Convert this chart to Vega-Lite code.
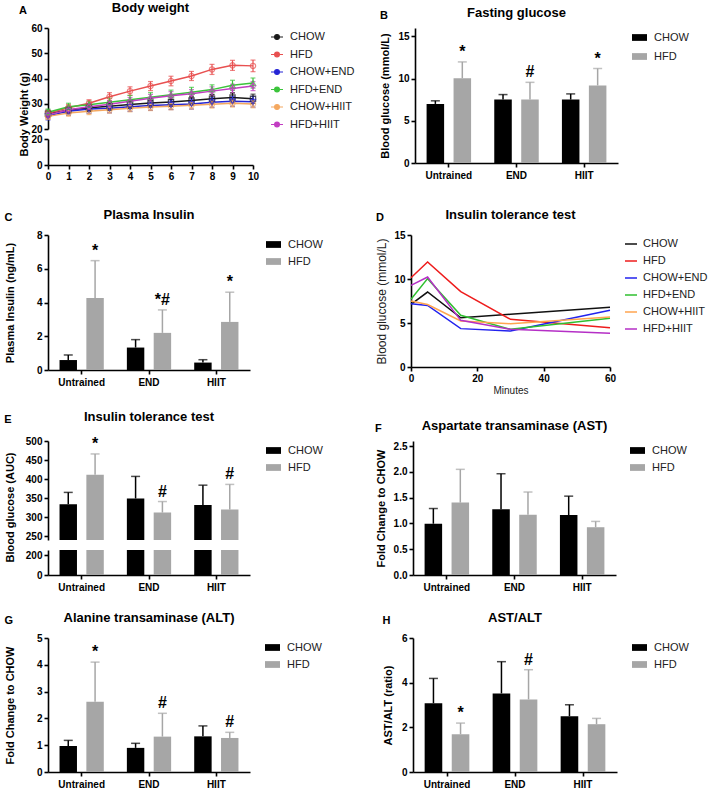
{
  "$schema": "https://vega.github.io/schema/vega-lite/v6.json",
  "padding": {"left": 4, "top": 2, "right": 2, "bottom": 2},
  "background": "white",
  "config": {
    "font": "Liberation Sans",
    "view": {"stroke": null},
    "axis": {"grid": false, "domainColor": "#000", "domainWidth": 1.6, "tickColor": "#000", "tickWidth": 1.6, "tickSize": 4, "labelFontSize": 10, "labelFontWeight": "bold", "labelColor": "#000", "labelFont": "Liberation Sans", "titleFont": "Liberation Sans", "titleFontSize": 11, "titleFontWeight": "bold", "titleColor": "#000", "labelPadding": 2, "labelOverlap": false, "labelFlush": false},
    "axisX": {"labelAngle": 0},
    "title": {"font": "Liberation Sans", "fontSize": 13, "fontWeight": "bold", "color": "#000", "offset": 8},
    "legend": {"labelFont": "Liberation Sans"}
  },
  "datasets": {
    "bw": [
      {"week": 0, "group": "CHOW", "mean": 26.0, "sd": 1.5}, {"week": 1, "group": "CHOW", "mean": 27.5, "sd": 1.5}, {"week": 2, "group": "CHOW", "mean": 28.4, "sd": 1.5}, {"week": 3, "group": "CHOW", "mean": 29.0, "sd": 1.6}, {"week": 4, "group": "CHOW", "mean": 29.7, "sd": 1.6}, {"week": 5, "group": "CHOW", "mean": 30.3, "sd": 1.6}, {"week": 6, "group": "CHOW", "mean": 30.7, "sd": 1.7}, {"week": 7, "group": "CHOW", "mean": 31.3, "sd": 1.7}, {"week": 8, "group": "CHOW", "mean": 32.0, "sd": 1.7}, {"week": 9, "group": "CHOW", "mean": 32.5, "sd": 1.8}, {"week": 10, "group": "CHOW", "mean": 32.0, "sd": 1.8},
      {"week": 0, "group": "HFD", "mean": 26.2, "sd": 1.2}, {"week": 1, "group": "HFD", "mean": 28.4, "sd": 1.3}, {"week": 2, "group": "HFD", "mean": 30.2, "sd": 1.4}, {"week": 3, "group": "HFD", "mean": 32.8, "sd": 1.6}, {"week": 4, "group": "HFD", "mean": 35.0, "sd": 1.7}, {"week": 5, "group": "HFD", "mean": 37.0, "sd": 1.8}, {"week": 6, "group": "HFD", "mean": 39.0, "sd": 1.9}, {"week": 7, "group": "HFD", "mean": 41.0, "sd": 1.8}, {"week": 8, "group": "HFD", "mean": 43.6, "sd": 2.0}, {"week": 9, "group": "HFD", "mean": 45.2, "sd": 2.0}, {"week": 10, "group": "HFD", "mean": 45.0, "sd": 2.3},
      {"week": 0, "group": "CHOW+END", "mean": 25.2, "sd": 1.6}, {"week": 1, "group": "CHOW+END", "mean": 27.0, "sd": 1.6}, {"week": 2, "group": "CHOW+END", "mean": 27.9, "sd": 1.7}, {"week": 3, "group": "CHOW+END", "mean": 28.2, "sd": 1.8}, {"week": 4, "group": "CHOW+END", "mean": 28.8, "sd": 1.8}, {"week": 5, "group": "CHOW+END", "mean": 29.3, "sd": 1.9}, {"week": 6, "group": "CHOW+END", "mean": 29.6, "sd": 1.9}, {"week": 7, "group": "CHOW+END", "mean": 29.9, "sd": 2.0}, {"week": 8, "group": "CHOW+END", "mean": 30.6, "sd": 2.0}, {"week": 9, "group": "CHOW+END", "mean": 31.0, "sd": 2.0}, {"week": 10, "group": "CHOW+END", "mean": 30.8, "sd": 2.1},
      {"week": 0, "group": "HFD+END", "mean": 26.6, "sd": 1.3}, {"week": 1, "group": "HFD+END", "mean": 28.8, "sd": 1.4}, {"week": 2, "group": "HFD+END", "mean": 29.6, "sd": 1.5}, {"week": 3, "group": "HFD+END", "mean": 30.6, "sd": 1.6}, {"week": 4, "group": "HFD+END", "mean": 31.6, "sd": 1.7}, {"week": 5, "group": "HFD+END", "mean": 32.6, "sd": 1.8}, {"week": 6, "group": "HFD+END", "mean": 33.6, "sd": 1.8}, {"week": 7, "group": "HFD+END", "mean": 34.6, "sd": 1.9}, {"week": 8, "group": "HFD+END", "mean": 35.6, "sd": 1.9}, {"week": 9, "group": "HFD+END", "mean": 37.3, "sd": 2.0}, {"week": 10, "group": "HFD+END", "mean": 38.2, "sd": 2.0},
      {"week": 0, "group": "CHOW+HIIT", "mean": 25.0, "sd": 1.2}, {"week": 1, "group": "CHOW+HIIT", "mean": 26.3, "sd": 1.2}, {"week": 2, "group": "CHOW+HIIT", "mean": 27.0, "sd": 1.3}, {"week": 3, "group": "CHOW+HIIT", "mean": 27.6, "sd": 1.3}, {"week": 4, "group": "CHOW+HIIT", "mean": 28.2, "sd": 1.4}, {"week": 5, "group": "CHOW+HIIT", "mean": 28.7, "sd": 1.4}, {"week": 6, "group": "CHOW+HIIT", "mean": 29.0, "sd": 1.4}, {"week": 7, "group": "CHOW+HIIT", "mean": 29.4, "sd": 1.5}, {"week": 8, "group": "CHOW+HIIT", "mean": 29.8, "sd": 1.5}, {"week": 9, "group": "CHOW+HIIT", "mean": 30.2, "sd": 1.5}, {"week": 10, "group": "CHOW+HIIT", "mean": 29.9, "sd": 1.5},
      {"week": 0, "group": "HFD+HIIT", "mean": 25.6, "sd": 1.3}, {"week": 1, "group": "HFD+HIIT", "mean": 27.6, "sd": 1.3}, {"week": 2, "group": "HFD+HIIT", "mean": 28.8, "sd": 1.4}, {"week": 3, "group": "HFD+HIIT", "mean": 29.8, "sd": 1.4}, {"week": 4, "group": "HFD+HIIT", "mean": 31.0, "sd": 1.5}, {"week": 5, "group": "HFD+HIIT", "mean": 32.2, "sd": 1.5}, {"week": 6, "group": "HFD+HIIT", "mean": 33.2, "sd": 1.6}, {"week": 7, "group": "HFD+HIIT", "mean": 34.0, "sd": 1.6}, {"week": 8, "group": "HFD+HIIT", "mean": 35.0, "sd": 1.7}, {"week": 9, "group": "HFD+HIIT", "mean": 36.0, "sd": 1.7}, {"week": 10, "group": "HFD+HIIT", "mean": 37.0, "sd": 1.8}
    ],
    "itt": [
      {"min": 0, "group": "CHOW", "glucose": 7.12}, {"min": 5, "group": "CHOW", "glucose": 8.52}, {"min": 15, "group": "CHOW", "glucose": 5.6}, {"min": 30, "group": "CHOW", "glucose": 6.0}, {"min": 60, "group": "CHOW", "glucose": 6.8},
      {"min": 0, "group": "HFD", "glucose": 10.15}, {"min": 5, "group": "HFD", "glucose": 11.93}, {"min": 15, "group": "HFD", "glucose": 8.56}, {"min": 30, "group": "HFD", "glucose": 5.42}, {"min": 60, "group": "HFD", "glucose": 4.47},
      {"min": 0, "group": "CHOW+END", "glucose": 7.2}, {"min": 5, "group": "CHOW+END", "glucose": 7.0}, {"min": 15, "group": "CHOW+END", "glucose": 4.36}, {"min": 30, "group": "CHOW+END", "glucose": 4.09}, {"min": 60, "group": "CHOW+END", "glucose": 6.44},
      {"min": 0, "group": "HFD+END", "glucose": 7.69}, {"min": 5, "group": "HFD+END", "glucose": 10.04}, {"min": 15, "group": "HFD+END", "glucose": 5.87}, {"min": 30, "group": "HFD+END", "glucose": 4.28}, {"min": 60, "group": "HFD+END", "glucose": 5.53},
      {"min": 0, "group": "CHOW+HIIT", "glucose": 7.5}, {"min": 5, "group": "CHOW+HIIT", "glucose": 7.1}, {"min": 15, "group": "CHOW+HIIT", "glucose": 5.23}, {"min": 30, "group": "CHOW+HIIT", "glucose": 4.92}, {"min": 60, "group": "CHOW+HIIT", "glucose": 5.68},
      {"min": 0, "group": "HFD+HIIT", "glucose": 9.28}, {"min": 5, "group": "HFD+HIIT", "glucose": 10.23}, {"min": 15, "group": "HFD+HIIT", "glucose": 5.3}, {"min": 30, "group": "HFD+HIIT", "glucose": 4.28}, {"min": 60, "group": "HFD+HIIT", "glucose": 3.83}
    ],
    "fg": [
      {"cond": "Untrained", "diet": "CHOW", "mean": 7.0, "hi": 7.37, "sig": ""}, {"cond": "Untrained", "diet": "HFD", "mean": 10.05, "hi": 11.98, "sig": "*"},
      {"cond": "END", "diet": "CHOW", "mean": 7.52, "hi": 8.11, "sig": ""}, {"cond": "END", "diet": "HFD", "mean": 7.52, "hi": 9.56, "sig": "#"},
      {"cond": "HIIT", "diet": "CHOW", "mean": 7.52, "hi": 8.19, "sig": ""}, {"cond": "HIIT", "diet": "HFD", "mean": 9.19, "hi": 11.2, "sig": "*"}
    ],
    "ins": [
      {"cond": "Untrained", "diet": "CHOW", "mean": 0.59, "hi": 0.89, "sig": ""}, {"cond": "Untrained", "diet": "HFD", "mean": 4.26, "hi": 6.48, "sig": "*"},
      {"cond": "END", "diet": "CHOW", "mean": 1.33, "hi": 1.8, "sig": ""}, {"cond": "END", "diet": "HFD", "mean": 2.2, "hi": 3.56, "sig": "*#"},
      {"cond": "HIIT", "diet": "CHOW", "mean": 0.44, "hi": 0.61, "sig": ""}, {"cond": "HIIT", "diet": "HFD", "mean": 2.85, "hi": 4.61, "sig": "*"}
    ],
    "auc": [
      {"cond": "Untrained", "diet": "CHOW", "mean": 334, "hi": 365, "sig": ""}, {"cond": "Untrained", "diet": "HFD", "mean": 411.6, "hi": 466, "sig": "*"},
      {"cond": "END", "diet": "CHOW", "mean": 349, "hi": 407, "sig": ""}, {"cond": "END", "diet": "HFD", "mean": 312, "hi": 341, "sig": "#"},
      {"cond": "HIIT", "diet": "CHOW", "mean": 332, "hi": 384, "sig": ""}, {"cond": "HIIT", "diet": "HFD", "mean": 320, "hi": 386, "sig": "#"}
    ],
    "ast": [
      {"cond": "Untrained", "diet": "CHOW", "mean": 0.995, "hi": 1.29, "sig": ""}, {"cond": "Untrained", "diet": "HFD", "mean": 1.405, "hi": 2.05, "sig": ""},
      {"cond": "END", "diet": "CHOW", "mean": 1.275, "hi": 1.965, "sig": ""}, {"cond": "END", "diet": "HFD", "mean": 1.17, "hi": 1.61, "sig": ""},
      {"cond": "HIIT", "diet": "CHOW", "mean": 1.163, "hi": 1.53, "sig": ""}, {"cond": "HIIT", "diet": "HFD", "mean": 0.927, "hi": 1.04, "sig": ""}
    ],
    "alt": [
      {"cond": "Untrained", "diet": "CHOW", "mean": 0.97, "hi": 1.18, "sig": ""}, {"cond": "Untrained", "diet": "HFD", "mean": 2.62, "hi": 4.1, "sig": "*"},
      {"cond": "END", "diet": "CHOW", "mean": 0.9, "hi": 1.07, "sig": ""}, {"cond": "END", "diet": "HFD", "mean": 1.32, "hi": 2.19, "sig": "#"},
      {"cond": "HIIT", "diet": "CHOW", "mean": 1.33, "hi": 1.72, "sig": ""}, {"cond": "HIIT", "diet": "HFD", "mean": 1.27, "hi": 1.48, "sig": "#"}
    ],
    "ratio": [
      {"cond": "Untrained", "diet": "CHOW", "mean": 3.08, "hi": 4.19, "sig": ""}, {"cond": "Untrained", "diet": "HFD", "mean": 1.69, "hi": 2.19, "sig": "*"},
      {"cond": "END", "diet": "CHOW", "mean": 3.52, "hi": 4.94, "sig": ""}, {"cond": "END", "diet": "HFD", "mean": 3.25, "hi": 4.58, "sig": "#"},
      {"cond": "HIIT", "diet": "CHOW", "mean": 2.5, "hi": 3.01, "sig": ""}, {"cond": "HIIT", "diet": "HFD", "mean": 2.14, "hi": 2.4, "sig": ""}
    ]
  },
  "spacing": 28,
  "resolve": {"scale": {"color": "independent", "shape": "independent", "x": "independent", "y": "independent", "xOffset": "independent"}, "legend": {"color": "independent", "shape": "independent"}},
  "vconcat": [
    {
      "spacing": 22,
      "resolve": {"scale": {"color": "independent", "shape": "independent", "x": "independent", "y": "independent", "xOffset": "independent"}, "legend": {"color": "independent", "shape": "independent"}},
      "hconcat": [
        {
          "title": {"text": "A", "anchor": "start", "frame": "bounds", "fontSize": 11, "offset": -14},
          "spacing": 10,
          "bounds": "flush",
          "resolve": {"scale": {"color": "independent", "shape": "independent", "x": "independent", "y": "independent"}, "legend": {"color": "independent", "shape": "independent"}},
          "vconcat": [
            {
              "width": 205, "height": 101,
              "title": {"text": "Body weight", "offset": 8},
              "data": {"name": "bw"},
              "encoding": {
                "x": {"field": "week", "type": "quantitative", "scale": {"domain": [0, 10]}, "axis": null},
                "y": {"field": "mean", "type": "quantitative", "scale": {"domain": [20, 60]}, "axis": {"values": [20, 30, 40, 50, 60], "tickCount": 20, "format": "d", "title": "Body Weight (g)", "titleY": 86, "titlePadding": 1}}
              },
              "layer": [
                {"mark": {"type": "line", "strokeWidth": 1.5}, "encoding": {"color": {"field": "group", "type": "nominal", "sort": ["CHOW", "HFD", "CHOW+END", "HFD+END", "CHOW+HIIT", "HFD+HIIT"], "scale": {"domain": ["CHOW", "HFD", "CHOW+END", "HFD+END", "CHOW+HIIT", "HFD+HIIT"], "range": ["#1a1a1a", "#e85050", "#2525d5", "#3cc43c", "#f4a860", "#c23dc2"]},
                  "legend": {"title": null, "symbolType": "M-1,0H1M0.4,0A0.4,0.4,0,1,1,-0.4,0A0.4,0.4,0,1,1,0.4,0", "symbolSize": 144, "symbolStrokeWidth": 1.2, "symbolFillColor": "transparent", "labelFontSize": 11, "labelColor": "#222", "labelOffset": 6, "rowPadding": 5.5, "offset": 12, "padding": 2}}}},
                {"mark": {"type": "errorbar", "ticks": true, "thickness": 1.2}, "encoding": {"yError": {"field": "sd"}, "color": {"field": "group", "type": "nominal", "scale": {"domain": ["CHOW", "HFD", "CHOW+END", "HFD+END", "CHOW+HIIT", "HFD+HIIT"], "range": ["#1a1a1a", "#e85050", "#2525d5", "#3cc43c", "#f4a860", "#c23dc2"]}, "legend": null}}},
                {"transform": [{"filter": "datum.group === 'CHOW'"}], "mark": {"type": "point", "shape": "square", "filled": false, "size": 28, "strokeWidth": 1.2}, "encoding": {"color": {"field": "group", "type": "nominal", "scale": {"domain": ["CHOW", "HFD", "CHOW+END", "HFD+END", "CHOW+HIIT", "HFD+HIIT"], "range": ["#1a1a1a", "#e85050", "#2525d5", "#3cc43c", "#f4a860", "#c23dc2"]}, "legend": null}}},
                {"transform": [{"filter": "datum.group === 'HFD' || datum.group === 'CHOW+HIIT'"}], "mark": {"type": "point", "shape": "circle", "filled": false, "size": 28, "strokeWidth": 1.2}, "encoding": {"color": {"field": "group", "type": "nominal", "scale": {"domain": ["CHOW", "HFD", "CHOW+END", "HFD+END", "CHOW+HIIT", "HFD+HIIT"], "range": ["#1a1a1a", "#e85050", "#2525d5", "#3cc43c", "#f4a860", "#c23dc2"]}, "legend": null}}},
                {"transform": [{"filter": "datum.group === 'CHOW+END'"}], "mark": {"type": "point", "shape": "triangle-down", "filled": false, "size": 28, "strokeWidth": 1.2}, "encoding": {"color": {"field": "group", "type": "nominal", "scale": {"domain": ["CHOW", "HFD", "CHOW+END", "HFD+END", "CHOW+HIIT", "HFD+HIIT"], "range": ["#1a1a1a", "#e85050", "#2525d5", "#3cc43c", "#f4a860", "#c23dc2"]}, "legend": null}}},
                {"transform": [{"filter": "datum.group === 'HFD+END'"}], "mark": {"type": "point", "shape": "triangle-up", "filled": false, "size": 28, "strokeWidth": 1.2}, "encoding": {"color": {"field": "group", "type": "nominal", "scale": {"domain": ["CHOW", "HFD", "CHOW+END", "HFD+END", "CHOW+HIIT", "HFD+HIIT"], "range": ["#1a1a1a", "#e85050", "#2525d5", "#3cc43c", "#f4a860", "#c23dc2"]}, "legend": null}}},
                {"transform": [{"filter": "datum.group === 'HFD+HIIT'"}], "mark": {"type": "point", "shape": "diamond", "filled": false, "size": 28, "strokeWidth": 1.2}, "encoding": {"color": {"field": "group", "type": "nominal", "scale": {"domain": ["CHOW", "HFD", "CHOW+END", "HFD+END", "CHOW+HIIT", "HFD+HIIT"], "range": ["#1a1a1a", "#e85050", "#2525d5", "#3cc43c", "#f4a860", "#c23dc2"]}, "legend": null}}}
              ]
            },
            {
              "width": 205, "height": 26,
              "data": {"name": "bw"},
              "mark": {"type": "line", "clip": true},
              "encoding": {
                "x": {"field": "week", "type": "quantitative", "scale": {"domain": [0, 10]}, "axis": {"values": [0, 1, 2, 3, 4, 5, 6, 7, 8, 9, 10], "tickCount": 20, "format": "d", "title": null}},
                "y": {"field": "mean", "type": "quantitative", "scale": {"domain": [0, 20]}, "axis": {"values": [0, 20], "tickCount": 20, "format": "d", "title": null}},
                "detail": {"field": "group", "type": "nominal"}
              }
            }
          ]
        },
        {
          "title": {"text": "B", "anchor": "start", "frame": "bounds", "fontSize": 11, "offset": -14},
          "bounds": "flush",
          "resolve": {"scale": {"color": "independent", "x": "independent", "y": "independent", "xOffset": "independent"}, "legend": {"color": "independent"}},
          "vconcat": [
            {
              "width": 203, "height": 135,
              "title": "Fasting glucose",
              "data": {"name": "fg"},
              "encoding": {
                "x": {"field": "cond", "type": "nominal", "sort": ["Untrained", "END", "HIIT"], "scale": {"paddingInner": 0, "paddingOuter": 0}, "axis": {"title": null, "labelAngle": 0, "labelPadding": 3}},
                "xOffset": {"field": "diet", "type": "nominal", "sort": ["CHOW", "HFD"], "scale": {"paddingInner": 0.35, "paddingOuter": 0.43}}
              },
              "layer": [
                {"mark": "bar", "encoding": {"y": {"field": "mean", "type": "quantitative", "scale": {"domain": [0, 15]}, "axis": {"values": [0, 5, 10, 15], "tickCount": 20, "format": "d", "title": "Blood glucose (mmol/L)", "titlePadding": 7}}, "color": {"field": "diet", "type": "nominal", "scale": {"domain": ["CHOW", "HFD"], "range": ["#000000", "#a6a6a6"]}, "legend": {"title": null, "symbolType": "M-1,-0.45H1V0.45H-1Z", "symbolSize": 225, "symbolStrokeWidth": 0, "labelFontSize": 11, "labelColor": "#222", "labelOffset": 7, "rowPadding": 6, "offset": 12, "padding": 2}}}},
                {"mark": {"type": "rule", "strokeWidth": 1.5}, "encoding": {"y": {"field": "mean", "type": "quantitative"}, "y2": {"field": "hi"}, "color": {"field": "diet", "type": "nominal", "scale": {"domain": ["CHOW", "HFD"], "range": ["#000000", "#a6a6a6"]}, "legend": null}}},
                {"mark": {"type": "tick", "thickness": 1.5, "size": 9}, "encoding": {"y": {"field": "hi", "type": "quantitative"}, "color": {"field": "diet", "type": "nominal", "scale": {"domain": ["CHOW", "HFD"], "range": ["#000000", "#a6a6a6"]}, "legend": null}}},
                {"mark": {"type": "text", "baseline": "alphabetic", "dy": -5, "fontSize": 16, "fontWeight": "bold", "color": "#000"}, "encoding": {"y": {"field": "hi", "type": "quantitative"}, "text": {"field": "sig"}}}
              ]
            }
          ]
        }
      ]
    },
    {
      "spacing": 15,
      "resolve": {"scale": {"color": "independent", "shape": "independent", "x": "independent", "y": "independent", "xOffset": "independent"}, "legend": {"color": "independent", "shape": "independent"}},
      "vconcat": [
        {
          "spacing": 50,
          "resolve": {"scale": {"color": "independent", "shape": "independent", "x": "independent", "y": "independent", "xOffset": "independent"}, "legend": {"color": "independent", "shape": "independent"}},
          "hconcat": [
            {
              "title": {"text": "C", "anchor": "start", "frame": "bounds", "fontSize": 11, "offset": -14},
              "bounds": "flush",
              "resolve": {"scale": {"color": "independent", "x": "independent", "y": "independent", "xOffset": "independent"}, "legend": {"color": "independent"}},
              "vconcat": [
                {
                  "width": 202, "height": 135,
                  "title": "Plasma Insulin",
                  "data": {"name": "ins"},
                  "encoding": {
                    "x": {"field": "cond", "type": "nominal", "sort": ["Untrained", "END", "HIIT"], "scale": {"paddingInner": 0, "paddingOuter": 0}, "axis": {"title": null, "labelAngle": 0, "labelPadding": 3}},
                    "xOffset": {"field": "diet", "type": "nominal", "sort": ["CHOW", "HFD"], "scale": {"paddingInner": 0.35, "paddingOuter": 0.43}}
                  },
                  "layer": [
                    {"mark": "bar", "encoding": {"y": {"field": "mean", "type": "quantitative", "scale": {"domain": [0, 8]}, "axis": {"values": [0, 2, 4, 6, 8], "tickCount": 20, "format": "d", "title": "Plasma Insulin (ng/mL)", "titlePadding": 21}}, "color": {"field": "diet", "type": "nominal", "scale": {"domain": ["CHOW", "HFD"], "range": ["#000000", "#a6a6a6"]}, "legend": {"title": null, "symbolType": "M-1,-0.45H1V0.45H-1Z", "symbolSize": 225, "symbolStrokeWidth": 0, "labelFontSize": 11, "labelColor": "#222", "labelOffset": 7, "rowPadding": 4, "offset": 14, "padding": 2}}}},
                    {"mark": {"type": "rule", "strokeWidth": 1.5}, "encoding": {"y": {"field": "mean", "type": "quantitative"}, "y2": {"field": "hi"}, "color": {"field": "diet", "type": "nominal", "scale": {"domain": ["CHOW", "HFD"], "range": ["#000000", "#a6a6a6"]}, "legend": null}}},
                    {"mark": {"type": "tick", "thickness": 1.5, "size": 9}, "encoding": {"y": {"field": "hi", "type": "quantitative"}, "color": {"field": "diet", "type": "nominal", "scale": {"domain": ["CHOW", "HFD"], "range": ["#000000", "#a6a6a6"]}, "legend": null}}},
                    {"mark": {"type": "text", "baseline": "alphabetic", "dy": -5, "fontSize": 16, "fontWeight": "bold", "color": "#000"}, "encoding": {"y": {"field": "hi", "type": "quantitative"}, "text": {"field": "sig"}}}
                  ]
                }
              ]
            },
            {
              "title": {"text": "D", "anchor": "start", "frame": "bounds", "fontSize": 11, "offset": -14},
              "bounds": "flush",
              "resolve": {"scale": {"color": "independent", "x": "independent", "y": "independent"}, "legend": {"color": "independent"}},
              "vconcat": [
                {
                  "width": 199, "height": 132,
                  "title": "Insulin tolerance test",
                  "data": {"name": "itt"},
                  "mark": {"type": "line", "strokeWidth": 1.5},
                  "encoding": {
                    "x": {"field": "min", "type": "quantitative", "scale": {"domain": [0, 60]}, "axis": {"values": [0, 20, 40, 60], "tickCount": 20, "format": "d", "title": "Minutes", "titleFontWeight": "normal", "titleFontSize": 10, "titleColor": "#222", "titlePadding": 2}},
                    "y": {"field": "glucose", "type": "quantitative", "scale": {"domain": [0, 15]}, "axis": {"values": [0, 5, 10, 15], "tickCount": 20, "format": "d", "title": "Blood glucose (mmol/L)", "titleFontWeight": "normal", "titleFontSize": 12, "titleColor": "#222", "titlePadding": 5}},
                    "color": {"field": "group", "type": "nominal", "sort": ["CHOW", "HFD", "CHOW+END", "HFD+END", "CHOW+HIIT", "HFD+HIIT"], "scale": {"domain": ["CHOW", "HFD", "CHOW+END", "HFD+END", "CHOW+HIIT", "HFD+HIIT"], "range": ["#111111", "#ee1c1c", "#2222ee", "#2fbf2f", "#ffa54f", "#b52fc6"]}, "legend": {"title": null, "symbolType": "stroke", "symbolSize": 144, "symbolStrokeWidth": 1.5, "labelFontSize": 11, "labelColor": "#222", "labelOffset": 5, "rowPadding": 5, "offset": 9, "padding": 2}}
                  }
                }
              ]
            }
          ]
        },
        {
          "spacing": 20,
          "resolve": {"scale": {"color": "independent", "shape": "independent", "x": "independent", "y": "independent", "xOffset": "independent"}, "legend": {"color": "independent", "shape": "independent"}},
          "vconcat": [
            {
              "spacing": 50,
              "resolve": {"scale": {"color": "independent", "shape": "independent", "x": "independent", "y": "independent", "xOffset": "independent"}, "legend": {"color": "independent", "shape": "independent"}},
              "hconcat": [
                {
                  "title": {"text": "E", "anchor": "start", "frame": "bounds", "fontSize": 11, "offset": -14},
                  "spacing": 10,
                  "bounds": "flush",
                  "resolve": {"scale": {"color": "independent", "x": "independent", "y": "independent", "xOffset": "independent"}, "legend": {"color": "independent"}},
                  "vconcat": [
                    {
                      "width": 202, "height": 99,
                      "title": {"text": "Insulin tolerance test", "offset": 12},
                      "data": {"name": "auc"},
                      "encoding": {
                        "x": {"field": "cond", "type": "nominal", "sort": ["Untrained", "END", "HIIT"], "scale": {"paddingInner": 0, "paddingOuter": 0}, "axis": null},
                        "xOffset": {"field": "diet", "type": "nominal", "sort": ["CHOW", "HFD"], "scale": {"paddingInner": 0.35, "paddingOuter": 0.43}}
                      },
                      "layer": [
                        {"mark": {"type": "bar", "clip": true}, "encoding": {"y": {"field": "mean", "type": "quantitative", "scale": {"domain": [250, 500], "zero": false}, "axis": {"values": [250, 300, 350, 400, 450, 500], "tickCount": 20, "format": "d", "title": "Blood glucose (AUC)", "titleY": 66, "titlePadding": 10}}, "color": {"field": "diet", "type": "nominal", "scale": {"domain": ["CHOW", "HFD"], "range": ["#000000", "#a6a6a6"]}, "legend": {"title": null, "symbolType": "M-1,-0.45H1V0.45H-1Z", "symbolSize": 225, "symbolStrokeWidth": 0, "labelFontSize": 11, "labelColor": "#222", "labelOffset": 7, "rowPadding": 4, "offset": 14, "padding": 2}}}},
                        {"mark": {"type": "rule", "strokeWidth": 1.5}, "encoding": {"y": {"field": "mean", "type": "quantitative"}, "y2": {"field": "hi"}, "color": {"field": "diet", "type": "nominal", "scale": {"domain": ["CHOW", "HFD"], "range": ["#000000", "#a6a6a6"]}, "legend": null}}},
                        {"mark": {"type": "tick", "thickness": 1.5, "size": 9}, "encoding": {"y": {"field": "hi", "type": "quantitative"}, "color": {"field": "diet", "type": "nominal", "scale": {"domain": ["CHOW", "HFD"], "range": ["#000000", "#a6a6a6"]}, "legend": null}}},
                        {"mark": {"type": "text", "baseline": "alphabetic", "dy": -5, "fontSize": 16, "fontWeight": "bold", "color": "#000"}, "encoding": {"y": {"field": "hi", "type": "quantitative"}, "text": {"field": "sig"}}}
                      ]
                    },
                    {
                      "width": 202, "height": 25,
                      "data": {"name": "auc"},
                      "mark": {"type": "bar", "clip": true},
                      "encoding": {
                        "x": {"field": "cond", "type": "nominal", "sort": ["Untrained", "END", "HIIT"], "scale": {"paddingInner": 0, "paddingOuter": 0}, "axis": {"title": null, "labelAngle": 0, "labelPadding": 3}},
                        "xOffset": {"field": "diet", "type": "nominal", "sort": ["CHOW", "HFD"], "scale": {"paddingInner": 0.35, "paddingOuter": 0.43}},
                        "y": {"field": "mean", "type": "quantitative", "scale": {"domain": [0, 250]}, "axis": {"values": [0, 200], "tickCount": 20, "format": "d", "title": null}},
                        "color": {"field": "diet", "type": "nominal", "scale": {"domain": ["CHOW", "HFD"], "range": ["#000000", "#a6a6a6"]}, "legend": null}
                      }
                    }
                  ]
                },
                {
                  "title": {"text": "F", "anchor": "start", "frame": "bounds", "fontSize": 11, "offset": -14},
                  "bounds": "flush",
                  "resolve": {"scale": {"color": "independent", "x": "independent", "y": "independent", "xOffset": "independent"}, "legend": {"color": "independent"}},
                  "vconcat": [
                    {
                      "width": 203, "height": 134,
                      "title": "Aspartate transaminase (AST)",
                      "data": {"name": "ast"},
                      "encoding": {
                        "x": {"field": "cond", "type": "nominal", "sort": ["Untrained", "END", "HIIT"], "scale": {"paddingInner": 0, "paddingOuter": 0}, "axis": {"title": null, "labelAngle": 0, "labelPadding": 3}},
                        "xOffset": {"field": "diet", "type": "nominal", "sort": ["CHOW", "HFD"], "scale": {"paddingInner": 0.35, "paddingOuter": 0.43}}
                      },
                      "layer": [
                        {"mark": "bar", "encoding": {"y": {"field": "mean", "type": "quantitative", "scale": {"domain": [0, 2.5]}, "axis": {"values": [0, 0.5, 1, 1.5, 2, 2.5], "tickCount": 20, "format": ".1f", "title": "Fold Change to CHOW", "titlePadding": 7}}, "color": {"field": "diet", "type": "nominal", "scale": {"domain": ["CHOW", "HFD"], "range": ["#000000", "#a6a6a6"]}, "legend": {"title": null, "symbolType": "M-1,-0.45H1V0.45H-1Z", "symbolSize": 225, "symbolStrokeWidth": 0, "labelFontSize": 11, "labelColor": "#222", "labelOffset": 7, "rowPadding": 4, "offset": 12, "padding": 2}}}},
                        {"mark": {"type": "rule", "strokeWidth": 1.5}, "encoding": {"y": {"field": "mean", "type": "quantitative"}, "y2": {"field": "hi"}, "color": {"field": "diet", "type": "nominal", "scale": {"domain": ["CHOW", "HFD"], "range": ["#000000", "#a6a6a6"]}, "legend": null}}},
                        {"mark": {"type": "tick", "thickness": 1.5, "size": 9}, "encoding": {"y": {"field": "hi", "type": "quantitative"}, "color": {"field": "diet", "type": "nominal", "scale": {"domain": ["CHOW", "HFD"], "range": ["#000000", "#a6a6a6"]}, "legend": null}}}
                      ]
                    }
                  ]
                }
              ]
            },
            {
              "spacing": 58,
              "resolve": {"scale": {"color": "independent", "shape": "independent", "x": "independent", "y": "independent", "xOffset": "independent"}, "legend": {"color": "independent", "shape": "independent"}},
              "hconcat": [
                {
                  "title": {"text": "G", "anchor": "start", "frame": "bounds", "fontSize": 11, "offset": -14},
                  "bounds": "flush",
                  "resolve": {"scale": {"color": "independent", "x": "independent", "y": "independent", "xOffset": "independent"}, "legend": {"color": "independent"}},
                  "vconcat": [
                    {
                      "width": 202, "height": 134,
                      "title": "Alanine transaminase (ALT)",
                      "data": {"name": "alt"},
                      "encoding": {
                        "x": {"field": "cond", "type": "nominal", "sort": ["Untrained", "END", "HIIT"], "scale": {"paddingInner": 0, "paddingOuter": 0}, "axis": {"title": null, "labelAngle": 0, "labelPadding": 3}},
                        "xOffset": {"field": "diet", "type": "nominal", "sort": ["CHOW", "HFD"], "scale": {"paddingInner": 0.35, "paddingOuter": 0.43}}
                      },
                      "layer": [
                        {"mark": "bar", "encoding": {"y": {"field": "mean", "type": "quantitative", "scale": {"domain": [0, 5]}, "axis": {"values": [0, 1, 2, 3, 4, 5], "tickCount": 20, "format": "d", "title": "Fold Change to CHOW", "titlePadding": 21}}, "color": {"field": "diet", "type": "nominal", "scale": {"domain": ["CHOW", "HFD"], "range": ["#000000", "#a6a6a6"]}, "legend": {"title": null, "symbolType": "M-1,-0.45H1V0.45H-1Z", "symbolSize": 225, "symbolStrokeWidth": 0, "labelFontSize": 11, "labelColor": "#222", "labelOffset": 7, "rowPadding": 4, "offset": 13, "padding": 2}}}},
                        {"mark": {"type": "rule", "strokeWidth": 1.5}, "encoding": {"y": {"field": "mean", "type": "quantitative"}, "y2": {"field": "hi"}, "color": {"field": "diet", "type": "nominal", "scale": {"domain": ["CHOW", "HFD"], "range": ["#000000", "#a6a6a6"]}, "legend": null}}},
                        {"mark": {"type": "tick", "thickness": 1.5, "size": 9}, "encoding": {"y": {"field": "hi", "type": "quantitative"}, "color": {"field": "diet", "type": "nominal", "scale": {"domain": ["CHOW", "HFD"], "range": ["#000000", "#a6a6a6"]}, "legend": null}}},
                        {"mark": {"type": "text", "baseline": "alphabetic", "dy": -5, "fontSize": 16, "fontWeight": "bold", "color": "#000"}, "encoding": {"y": {"field": "hi", "type": "quantitative"}, "text": {"field": "sig"}}}
                      ]
                    }
                  ]
                },
                {
                  "title": {"text": "H", "anchor": "start", "frame": "bounds", "fontSize": 11, "offset": -14},
                  "bounds": "flush",
                  "resolve": {"scale": {"color": "independent", "x": "independent", "y": "independent", "xOffset": "independent"}, "legend": {"color": "independent"}},
                  "vconcat": [
                    {
                      "width": 204, "height": 134,
                      "title": "AST/ALT",
                      "data": {"name": "ratio"},
                      "encoding": {
                        "x": {"field": "cond", "type": "nominal", "sort": ["Untrained", "END", "HIIT"], "scale": {"paddingInner": 0, "paddingOuter": 0}, "axis": {"title": null, "labelAngle": 0, "labelPadding": 3}},
                        "xOffset": {"field": "diet", "type": "nominal", "sort": ["CHOW", "HFD"], "scale": {"paddingInner": 0.35, "paddingOuter": 0.43}}
                      },
                      "layer": [
                        {"mark": "bar", "encoding": {"y": {"field": "mean", "type": "quantitative", "scale": {"domain": [0, 6]}, "axis": {"values": [0, 2, 4, 6], "tickCount": 20, "format": "d", "title": "AST/ALT (ratio)", "titlePadding": 8}}, "color": {"field": "diet", "type": "nominal", "scale": {"domain": ["CHOW", "HFD"], "range": ["#000000", "#a6a6a6"]}, "legend": {"title": null, "symbolType": "M-1,-0.45H1V0.45H-1Z", "symbolSize": 225, "symbolStrokeWidth": 0, "labelFontSize": 11, "labelColor": "#222", "labelOffset": 7, "rowPadding": 4, "offset": 13, "padding": 2}}}},
                        {"mark": {"type": "rule", "strokeWidth": 1.5}, "encoding": {"y": {"field": "mean", "type": "quantitative"}, "y2": {"field": "hi"}, "color": {"field": "diet", "type": "nominal", "scale": {"domain": ["CHOW", "HFD"], "range": ["#000000", "#a6a6a6"]}, "legend": null}}},
                        {"mark": {"type": "tick", "thickness": 1.5, "size": 9}, "encoding": {"y": {"field": "hi", "type": "quantitative"}, "color": {"field": "diet", "type": "nominal", "scale": {"domain": ["CHOW", "HFD"], "range": ["#000000", "#a6a6a6"]}, "legend": null}}},
                        {"mark": {"type": "text", "baseline": "alphabetic", "dy": -5, "fontSize": 16, "fontWeight": "bold", "color": "#000"}, "encoding": {"y": {"field": "hi", "type": "quantitative"}, "text": {"field": "sig"}}}
                      ]
                    }
                  ]
                }
              ]
            }
          ]
        }
      ]
    }
  ]
}
